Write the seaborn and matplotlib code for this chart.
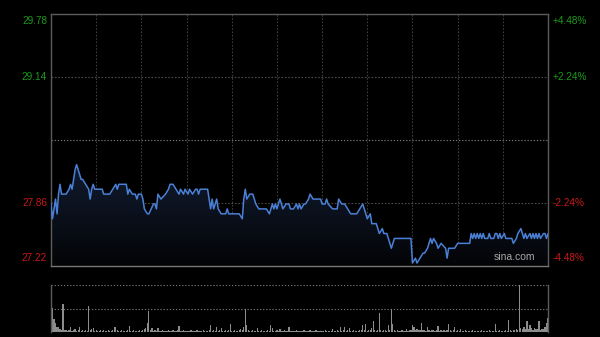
import numpy as np
import matplotlib
matplotlib.use("Agg")
import matplotlib.pyplot as plt
import seaborn as sns
import pandas as pd
from matplotlib.colors import LinearSegmentedColormap

# ---------------- data ----------------
minutes = [0, 1, 3, 4, 5, 6, 7, 9, 10, 12, 13, 14, 15, 16, 17, 19, 20, 21, 23, 25, 26, 27, 28, 29,
           34, 35, 37, 39, 41, 43, 44, 45, 50, 51, 52, 54, 56, 57, 58, 60, 61, 62, 64, 65, 68, 69,
           70, 71, 73, 76, 78, 79, 81, 83, 85, 86, 88, 89, 91, 92, 94, 96, 97, 98, 99, 104, 106,
           107, 108, 110, 111, 113, 116, 117, 118, 125, 127, 128, 129, 130, 132, 134, 136, 138,
           140, 143, 145, 147, 148, 149, 150, 152, 153, 154, 156, 158, 159, 161, 163, 164, 165,
           166, 168, 169, 171, 172, 174, 179, 180, 182, 183, 184, 187, 190, 191, 193, 195, 197,
           199, 203, 205, 207, 208, 210, 212, 213, 214, 216, 218, 220, 221, 223, 224, 226, 227,
           228, 239, 240, 242, 243, 245, 247, 248, 250, 252, 253, 254, 256, 257, 259, 262, 263,
           264, 268, 270, 272, 278, 279, 280, 281, 282, 283, 284, 285, 286, 287, 288, 290, 291,
           292, 294, 295, 296, 297, 298, 299, 301, 302, 306, 307, 309, 310, 312, 313, 314, 315,
           316, 318, 319, 320, 321, 322, 323, 324, 325, 327, 328, 329, 330]
prices = [27.85, 27.70, 27.90, 27.75, 27.95, 28.05, 27.95, 27.95, 27.95, 28.00, 28.05, 28.00,
          28.10, 28.20, 28.25, 28.15, 28.10, 28.10, 28.05, 28.00, 27.90, 28.00, 28.05, 28.00,
          28.00, 27.95, 27.95, 27.95, 28.00, 28.05, 28.00, 28.05, 28.05, 27.95, 28.00, 27.95,
          27.95, 27.90, 27.95, 27.95, 27.90, 27.80, 27.75, 27.75, 27.85, 27.85,
          27.80, 27.95, 27.90, 27.95, 28.00, 28.05, 28.05, 28.00, 27.95, 28.00, 27.95, 28.00,
          27.95, 28.00, 27.95, 28.00, 28.00, 27.95, 28.00, 28.00, 27.80,
          27.90, 27.80, 27.90, 27.80, 27.75, 27.75, 27.80, 27.75, 27.75, 27.70, 27.90, 28.00,
          27.90, 27.95, 27.95, 27.85, 27.80,
          27.80, 27.80, 27.75, 27.85, 27.80, 27.85, 27.80, 27.90, 27.85, 27.80, 27.85, 27.85,
          27.80, 27.80, 27.85, 27.80, 27.85,
          27.80, 27.85, 27.85, 27.90, 27.95, 27.90, 27.90, 27.85, 27.85, 27.90, 27.85, 27.80,
          27.80, 27.90, 27.85, 27.85, 27.80,
          27.75, 27.75, 27.80, 27.85, 27.80, 27.70, 27.75, 27.65, 27.65, 27.65, 27.55, 27.60,
          27.55, 27.55, 27.50, 27.40, 27.45,
          27.50, 27.50, 27.25, 27.30, 27.25, 27.30, 27.35, 27.35, 27.40, 27.50, 27.45, 27.50,
          27.45, 27.40, 27.45, 27.40, 27.30,
          27.40, 27.40, 27.45, 27.45, 27.45, 27.55, 27.50, 27.55, 27.50, 27.55, 27.50, 27.55,
          27.50, 27.55, 27.50, 27.50, 27.55,
          27.50, 27.50, 27.55, 27.55, 27.50, 27.55, 27.50, 27.55, 27.50, 27.50, 27.45, 27.50,
          27.55, 27.60, 27.55, 27.50, 27.55,
          27.50, 27.55, 27.50, 27.55, 27.50, 27.55, 27.50, 27.55, 27.50, 27.55, 27.55, 27.50, 27.55]

volume = [30, 51, 27, 20, 11, 10, 6, 5, 60, 4, 5, 3, 4, 10, 3, 4, 6, 3, 4, 11, 3, 5, 2, 4, 3, 55, 4, 6, 8, 3,
          4, 2, 3, 4, 2, 5, 3, 2, 4, 3, 2, 5, 11, 11, 4, 3, 2, 4, 3, 2, 3, 5, 13, 3, 2, 4, 3, 2, 3, 4,
          3, 5, 6, 8, 20, 45, 4, 8, 3, 4, 2, 8, 3, 2, 4, 3, 2, 3, 5, 2, 3, 4, 2, 3, 4, 13, 3, 2, 4, 3,
          2, 3, 2, 4, 3, 2, 3, 5, 2, 3, 2, 4, 3, 2, 3, 5, 15, 3, 4, 2, 11, 3, 4, 8, 3, 2, 4, 3, 5, 17,
          3, 2, 4, 3, 2, 4, 6, 5, 10, 48, 15, 4, 3, 2, 4, 3, 2, 8, 3, 2, 4, 3, 2, 3, 4, 3, 15, 8, 3, 2,
          4, 3, 6, 2, 3, 4, 2, 3, 10, 3, 2, 3, 2, 4, 2, 3, 2, 3, 4, 2, 3, 2, 5, 3, 2, 3, 4, 2, 3, 2,
          3, 2, 4, 2, 3, 2, 3, 7, 3, 2, 4, 3, 11, 3, 4, 11, 3, 4, 8, 3, 2, 4, 3, 2, 3, 4, 5, 15, 4, 17,
          3, 4, 5, 8, 24, 4, 3, 5, 40, 4, 3, 4, 5, 3, 15, 4, 50, 17, 4, 3, 5, 3, 2, 4, 3, 2, 7, 3, 4, 5,
          15, 10, 4, 6, 5, 4, 20, 5, 4, 3, 10, 4, 3, 5, 4, 3, 4, 13, 3, 4, 2, 5, 3, 4, 17, 5, 3, 4, 10, 3,
          4, 2, 6, 3, 2, 4, 3, 2, 3, 2, 4, 2, 3, 2, 3, 2, 4, 2, 3, 2, 3, 4, 2, 3, 2, 17, 3, 2, 4, 3,
          2, 3, 4, 3, 25, 4, 3, 5, 4, 6, 5, 100, 8, 6, 10, 7, 23, 6, 15, 8, 5, 8, 6, 7, 23, 5, 6, 7, 10, 20,
          30]
vol_minutes = list(range(len(volume)))

prev_close = 28.50
left_labels = ["29.78", "29.14", "27.86", "27.22"]
left_values = [29.78, 29.14, 27.86, 27.22]
right_labels = ["+4.48%", "+2.24%", "-2.24%", "-4.48%"]
grid_minutes = [30, 60, 90, 120, 150, 180, 210, 240, 270, 300]

# ---------------- style ----------------
sns.set_theme(style="dark")
plt.rcParams['font.family'] = ['Liberation Sans', 'DejaVu Sans']
GREEN = "#1a9a1a"
RED = "#c81818"
LINE = "#4a80d6"

fig = plt.figure(figsize=(6.0, 3.37), dpi=100, facecolor="black")
W, H = 600, 337
ax = fig.add_axes([51 / W, (H - 266) / H, 497 / W, 252 / H])
axv = fig.add_axes([51 / W, (H - 332) / H, 497 / W, 47 / H])
for a in (ax, axv):
    a.set_facecolor("black")
    a.grid(False)

df = pd.DataFrame({"minute": minutes, "price": prices})
ymin, ymax = 27.22, 29.78

# gradient fill under line
poly = ax.fill_between(minutes, prices, ymin, color="none", linewidth=0)
cmap = LinearSegmentedColormap.from_list("g", ["#030406", "#121d33"])
grad = np.linspace(0, 1, 256).reshape(-1, 1)
im = ax.imshow(grad, cmap=cmap, aspect="auto", origin="lower",
               extent=[0, 330, ymin, 28.3], zorder=1)
im.set_clip_path(poly.get_paths()[0], transform=ax.transData)

# grid lines
for m in grid_minutes:
    ax.axvline(m, color="#3c3c3c", linestyle=(0, (1.5, 1.5)), linewidth=0.8, zorder=0.5)
for v in (29.14, 27.86):
    ax.axhline(v, color="#4a4a4a", linestyle=(0, (1.5, 1.5)), linewidth=0.8, zorder=0.5)
ax.axhline(prev_close, color="#777777", linestyle=(0, (1.2, 1.6)), linewidth=0.8, zorder=0.5)

sns.lineplot(data=df, x="minute", y="price", ax=ax, color=LINE, linewidth=1.1, zorder=3)

ax.set_xlim(0, 330)
ax.set_ylim(ymin, ymax)
ax.set_xticks([])
ax.set_yticks([])
ax.set_xlabel("")
ax.set_ylabel("")
for s in ax.spines.values():
    s.set_visible(True)
    s.set_color("#5c5c5c")
    s.set_linewidth(1.0)
ax.spines["bottom"].set_color("#777777")

# axis labels
cols = [GREEN, GREEN, RED, RED]
vas = ["top", "center", "center", "bottom"]
for lab, val, c, va in zip(left_labels, left_values, cols, vas):
    yy = val
    if va == "top":
        yy = val - 0.02
    if va == "bottom":
        yy = val + 0.03
    ax.text(-0.008, yy, lab, transform=ax.get_yaxis_transform(), ha="right", va=va,
            color=c, fontsize=7.2)
for lab, val, c, va in zip(right_labels, left_values, cols, vas):
    yy = val
    if va == "top":
        yy = val - 0.02
    if va == "bottom":
        yy = val + 0.03
    ax.text(1.01, yy, lab, transform=ax.get_yaxis_transform(), ha="left", va=va,
            color=c, fontsize=7.2)

ax.text(0.975, 0.015, "sina.com", transform=ax.transAxes, ha="right", va="bottom",
        color="#a8a8a8", fontsize=7.5)

# volume panel
vdf = pd.DataFrame({"minute": vol_minutes, "vol": volume})
sns.barplot(data=vdf, x="minute", y="vol", ax=axv, native_scale=True, color="#8c8c8c",
            width=0.8, errorbar=None, saturation=1, linewidth=0)
axv.set_xlim(0, 330)
axv.set_ylim(0, 100)
axv.set_xticks([])
axv.set_yticks([])
axv.set_xlabel("")
axv.set_ylabel("")
for v in (100, 50):
    axv.axhline(v, color="#707070", linestyle=(0, (1.2, 1.6)), linewidth=0.8, zorder=0.5)
for side, s in axv.spines.items():
    s.set_visible(side in ("left", "right"))
    s.set_color("#5c5c5c")
    s.set_linewidth(1.0)

fig.savefig("out.png", dpi=100, facecolor="black")
